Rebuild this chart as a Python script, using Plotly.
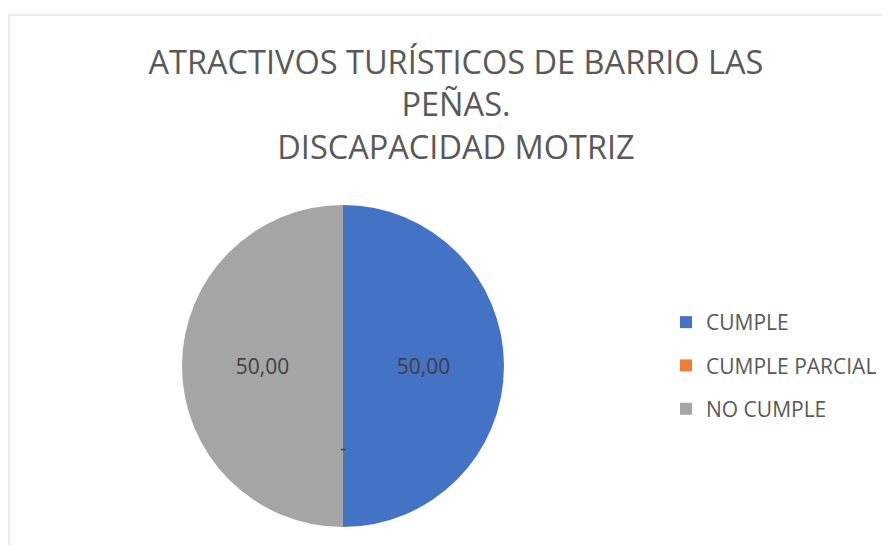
import plotly.graph_objects as go

labels = ["CUMPLE", "CUMPLE PARCIAL", "NO CUMPLE"]
values = [50.0, 0.0, 50.0]
colors = ["#4472C4", "#ED7D31", "#A5A5A5"]

title_lines = ["ATRACTIVOS TURÍSTICOS DE BARRIO LAS", "PEÑAS.", "DISCAPACIDAD MOTRIZ"]

W, H = 891, 545
OFF = 8  # page body margin pushes the figure by this much
font_name = "Open Sans"
text_color = "#595959"


def px(x):
    return (x - OFF) / W


def py(y):
    return 1 - (y - OFF) / H


# pie placement (paper fractions)
pie_x = [px(182), px(504)]
pie_y = [py(527), py(205)]

fig = go.Figure()

fig.add_trace(go.Pie(
    labels=labels, values=values, sort=False, direction="clockwise", rotation=0,
    marker=dict(colors=colors, line=dict(width=0)),
    texttemplate="%{value:.2f}", textposition="inside", insidetextorientation="horizontal",
    textfont=dict(family=font_name, size=21, color="#404040"),
    domain=dict(x=pie_x, y=pie_y), showlegend=False, hoverinfo="label+value",
))

# legend entries (one group each so they can be spaced like the original)
for lab, col in zip(labels, colors):
    fig.add_trace(go.Scatter(
        x=[None], y=[None], mode="markers", name=lab, legendgroup=lab,
        marker=dict(symbol="square", size=14, color=col), showlegend=True,
    ))

# zero-valued slice label, Excel shows a dash
cx = (pie_x[0] + pie_x[1]) / 2
cy = (pie_y[0] + pie_y[1]) / 2
for lab, v in zip(labels, values):
    if v == 0:
        fig.add_annotation(x=cx, y=cy - (pie_y[1] - pie_y[0]) * 0.30, xref="paper", yref="paper",
                           text="-", showarrow=False,
                           font=dict(family=font_name, size=20, color="#404040"))

# chart area border
fig.add_shape(type="rect", xref="paper", yref="paper",
              x0=px(9), x1=1.05, y0=-0.05, y1=py(15),
              line=dict(color="#D9D9D9", width=1), fillcolor="rgba(0,0,0,0)", layer="below")

fig.update_layout(
    width=W, height=H,
    margin=dict(l=0, r=0, t=0, b=0),
    paper_bgcolor="white", plot_bgcolor="white",
    separators=",.",
    title=dict(text="<br>".join(title_lines), x=px(456), xanchor="center",
               y=py(74), yanchor="top", yref="container",
               font=dict(family=font_name, size=32.5, color=text_color)),
    legend=dict(x=px(666), y=py(302), xanchor="left", yanchor="top",
                font=dict(family=font_name, size=21, color=text_color),
                tracegroupgap=13, itemsizing="constant", bgcolor="rgba(0,0,0,0)"),
    xaxis=dict(visible=False), yaxis=dict(visible=False),
)

fig.write_html("out.html")
